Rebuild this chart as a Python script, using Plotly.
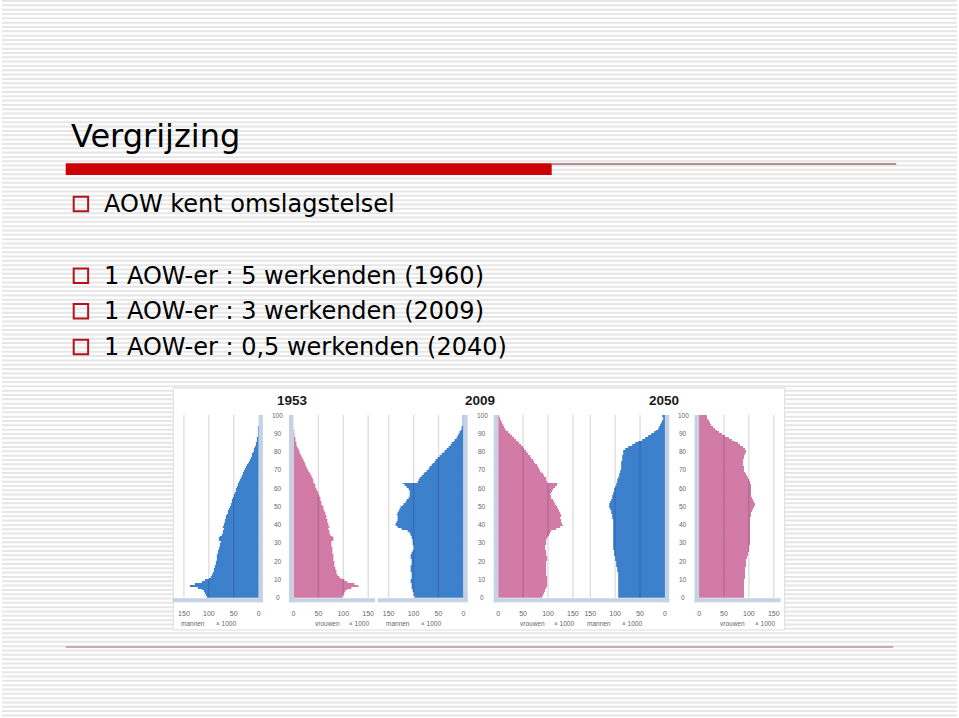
import plotly.graph_objects as go

W, H = 959, 718

# ---------------- data ----------------
ages = list(range(100))
years = ["1953", "2009", "2050"]

men_1953 = [103, 105, 107, 110, 114, 122, 137, 128, 113, 107,
            100, 96, 93, 91, 90, 89, 88, 87, 86, 85,
            84, 84, 83, 83, 82, 81, 80, 79, 78, 77,
            76, 80, 80, 77, 73, 72, 71, 70, 71, 70,
            69, 68, 67, 66, 65, 63, 62, 61, 59, 58,
            56, 55, 54, 53, 52, 50, 49, 48, 46, 45,
            43, 42, 41, 39, 37, 36, 34, 32, 31, 29,
            27, 25, 23, 21, 20, 18, 16, 14, 13, 11,
            10, 8.5, 7, 6, 5, 4, 3.2, 2.5, 1.9, 1.4,
            1.0, 0.7, 0.5, 0.35, 0.25, 0.15, 0.1, 0.06, 0.04, 0.03]
women_1953 = [98, 100, 102, 105, 109, 117, 131, 122, 108, 102,
              96, 92, 89, 87, 86, 85, 84, 83, 82, 82,
              81, 81, 80, 80, 79, 79, 78, 78, 77, 77,
              77, 81, 81, 78, 74, 73, 72, 71, 72, 71,
              70, 69, 68, 67, 66, 65, 64, 63, 61, 60,
              58, 57, 56, 55, 54, 52, 51, 50, 48, 47,
              45, 44, 43, 41, 40, 38, 36, 35, 33, 31,
              29, 27, 25, 24, 22, 20, 18, 16, 15, 13,
              11.5, 10, 8.5, 7, 6, 5, 4, 3.2, 2.5, 1.9,
              1.4, 1.0, 0.7, 0.5, 0.35, 0.25, 0.15, 0.1, 0.06, 0.04]
men_2009 = [98, 99, 100, 101, 102, 103, 104, 104, 105, 105,
            104, 103, 103, 104, 105, 106, 106, 105, 104, 104,
            104, 105, 106, 105, 103, 101, 100, 99, 100, 101,
            102, 102, 103, 104, 106, 108, 112, 124, 132, 136,
            135, 134, 132, 131, 132, 133, 132, 130, 127, 125,
            122, 119, 116, 113, 110, 108, 107, 107, 108, 110,
            114, 118, 121, 92, 89, 87, 84, 80, 77, 73,
            70, 67, 64, 61, 58, 55, 51, 48, 44, 40,
            37, 33, 29, 26, 23, 20, 17, 14, 11, 9,
            7, 5.5, 4, 3, 2.2, 1.6, 1.1, 0.8, 0.5, 0.4]
women_2009 = [88, 90, 92, 94, 95, 97, 98, 99, 99, 99,
              98, 98, 97, 97, 97, 96, 96, 96, 97, 97,
              98, 98, 98, 97, 96, 96, 95, 95, 95, 96,
              96, 97, 99, 101, 102, 104, 107, 116, 125, 131,
              129, 127, 126, 125, 126, 126, 125, 123, 121, 119,
              117, 115, 112, 110, 107, 106, 105, 106, 108, 111,
              114, 118, 119, 99, 97, 96, 93, 90, 87, 85,
              83, 81, 78, 75, 73, 70, 67, 64, 60, 58,
              56, 53, 50, 47, 43, 40, 36, 32, 28, 24,
              20, 17, 14, 12, 10, 8, 6, 5, 3.5, 3]
men_2050 = [94, 94, 94, 94, 93, 93, 93, 93, 93, 93,
            93, 93, 94, 94, 95, 95, 96, 97, 98, 98,
            99, 100, 100, 101, 102, 102, 103, 103, 103, 103,
            103, 103, 103, 103, 103, 103, 103, 103, 104, 104,
            104, 104, 104, 105, 105, 106, 107, 108, 110, 111,
            112, 111, 109, 107, 106, 105, 104, 103, 102, 101,
            100, 98, 97, 96, 95, 94, 92, 91, 90, 89,
            88, 88, 87, 87, 87, 86, 86, 85, 83, 84,
            84, 80, 74, 66, 60, 53, 46, 39, 33, 27,
            22, 18, 14, 11, 8.5, 6.5, 5, 4, 3.5, 6]
women_2050 = [90, 90, 90, 90, 90, 90, 91, 91, 91, 91,
              92, 92, 92, 92, 93, 93, 93, 94, 94, 95,
              95, 96, 97, 98, 99, 100, 100, 101, 101, 102,
              102, 102, 102, 102, 102, 102, 102, 102, 102, 102,
              102, 102, 103, 103, 104, 104, 105, 107, 109, 111,
              112, 112, 110, 108, 106, 105, 105, 105, 105, 105,
              104, 104, 103, 102, 100, 98, 96, 94, 92, 91,
              90, 90, 89, 89, 89, 89, 90, 91, 92, 94,
              95, 92, 88, 83, 78, 72, 66, 60, 53, 46,
              41, 36, 32, 28, 25, 22, 20, 18, 16, 16]

men = [men_1953, men_2009, men_2050]
women = [women_1953, women_2009, women_2050]

x_ticks = [0, 50, 100, 150]
grid_vals = [50, 100, 150]
age_ticks = list(range(0, 101, 10))
men_label = "mannen"
women_label = "vrouwen"
unit_label = "× 1000"

slide_title = "Vergrijzing"
bullets = ["AOW kent omslagstelsel",
           "1 AOW-er : 5 werkenden (1960)",
           "1 AOW-er : 3 werkenden (2009)",
           "1 AOW-er : 0,5 werkenden (2040)"]

# ---------------- layout helpers ----------------
def px(x):
    return x / W

def py(y):
    return 1 - y / H

L0s = [257.7, 463.3, 665.7]   # pixel x of "0" on men panels
R0s = [292.7, 498.3, 700.0]   # pixel x of "0" on women panels
S = 0.5                        # px per 1000 persons
RANGE = 160
Y_BOT, Y_TOP = 597.7, 415.0

BLUE = "#3b7ecb"
PINK = "#d179a6"
BAND = "#c4d2e3"
FONT = "Liberation Sans"

fig = go.Figure()
shapes = []
annotations = []

# striped slide background
stripe_path = []
k = 0
while k * 4.33 < H:
    y0 = k * 4.33
    stripe_path.append(f"M0,{py(y0):.5f} L1,{py(y0):.5f} L1,{py(y0+2):.5f} L0,{py(y0+2):.5f} Z")
    k += 1
shapes.append(dict(type="path", xref="paper", yref="paper", path=" ".join(stripe_path),
                   fillcolor="#e6e6e6", line=dict(width=0), layer="below"))

# chart picture background
shapes.append(dict(type="rect", xref="paper", yref="paper", x0=px(172), x1=px(786),
                   y0=py(630), y1=py(388), fillcolor="white",
                   line=dict(color="#dcdcdc", width=1), layer="below"))

layout_axes = {}
for i, yr in enumerate(years):
    L0, R0 = L0s[i], R0s[i]
    nm = 2 * i + 1
    nf = 2 * i + 2
    xm = "x" if nm == 1 else f"x{nm}"
    xf = f"x{nf}"
    fig.add_trace(go.Bar(x=men[i], y=[a + 0.5 for a in ages], orientation="h",
                         xaxis=xm, yaxis="y", width=1,
                         marker=dict(color=BLUE, line=dict(width=0.15, color="rgba(255,255,255,0.15)")),
                         showlegend=False, hoverinfo="skip"))
    fig.add_trace(go.Bar(x=women[i], y=[a + 0.5 for a in ages], orientation="h",
                         xaxis=xf, yaxis="y", width=1,
                         marker=dict(color=PINK, line=dict(width=0.15, color="rgba(255,255,255,0.15)")),
                         showlegend=False, hoverinfo="skip"))
    common = dict(anchor="y", tickvals=x_ticks, ticks="outside", ticklen=9,
                  tickcolor="rgba(0,0,0,0)", showgrid=False, zeroline=False,
                  showline=False, fixedrange=True,
                  tickfont=dict(size=7, color="#666", family=FONT))
    layout_axes["xaxis" if nm == 1 else f"xaxis{nm}"] = dict(
        domain=[px(L0 - RANGE * S), px(L0)], range=[RANGE, 0], **common)
    layout_axes[f"xaxis{nf}"] = dict(
        domain=[px(R0), px(R0 + RANGE * S)], range=[0, RANGE], **common)

    # zero bands
    shapes.append(dict(type="rect", xref="paper", yref="paper", x0=px(L0), x1=px(L0 + 4.3),
                       y0=py(602.3), y1=py(Y_TOP), fillcolor=BAND, line=dict(width=0), layer="below"))
    shapes.append(dict(type="rect", xref="paper", yref="paper", x0=px(R0 - 4.5), x1=px(R0),
                       y0=py(602.3), y1=py(Y_TOP), fillcolor=BAND, line=dict(width=0), layer="below"))
    # bottom bands
    shapes.append(dict(type="rect", xref="paper", yref="paper", x0=px(L0 - 86), x1=px(L0 + 4.3),
                       y0=py(602.3), y1=py(598.3), fillcolor=BAND, line=dict(width=0), layer="below"))
    shapes.append(dict(type="rect", xref="paper", yref="paper", x0=px(R0 - 4.5), x1=px(R0 + 82),
                       y0=py(602.3), y1=py(598.3), fillcolor=BAND, line=dict(width=0), layer="below"))
    # grid lines
    for g in grid_vals:
        for xr in (xm, xf):
            shapes.append(dict(type="line", xref=xr, yref="y", x0=g, x1=g, y0=0, y1=100,
                               line=dict(color="rgba(0,0,0,0.14)", width=1.3), layer="above"))

    mid = (L0 + R0) / 2
    for a in age_ticks:
        annotations.append(dict(x=px(mid + 1.5), xref="paper", y=a, yref="y", text=str(a),
                                yanchor="middle", xanchor="center",
                                showarrow=False, font=dict(size=6.5, color="#666", family=FONT)))
    annotations.append(dict(x=px(mid - 1), xref="paper", y=py(400), yref="paper",
                            text=f"<b>{yr}</b>", showarrow=False, yanchor="middle",
                            font=dict(size=13.5, color="#1a1a1a", family=FONT)))
    for lx, txt in ((L0 - 66, men_label), (L0 - 33, unit_label),
                    (R0 + 34, women_label), (R0 + 66, unit_label)):
        annotations.append(dict(x=px(lx), xref="paper", y=py(623.5), yref="paper", text=txt,
                                yanchor="middle", xanchor="center", showarrow=False,
                                font=dict(size=6.5, color="#666", family=FONT)))

# slide decorations
shapes.append(dict(type="rect", xref="paper", yref="paper", x0=px(64), x1=px(552),
                   y0=py(175), y1=py(163.3), fillcolor="#cc0000", line=dict(width=0)))
shapes.append(dict(type="line", xref="paper", yref="paper", x0=px(552), x1=px(898),
                   y0=py(164), y1=py(164), line=dict(color="#a5686c", width=1.5)))
shapes.append(dict(type="line", xref="paper", yref="paper", x0=px(64), x1=px(895),
                   y0=py(647), y1=py(647), line=dict(color="#b8959a", width=1.5)))

annotations.append(dict(x=px(67), xref="paper", y=py(136), yref="paper", text=slide_title,
                        xanchor="left", yanchor="middle", showarrow=False,
                        font=dict(size=32, color="black", family="DejaVu Sans")))

bullet_y = [204, 275.8, 311.2, 347]
for t, yc in zip(bullets, bullet_y):
    shapes.append(dict(type="rect", xref="paper", yref="paper", x0=px(72), x1=px(86.5),
                       y0=py(yc + 7.3), y1=py(yc - 7.3), fillcolor="rgba(0,0,0,0)",
                       line=dict(color="#b3121c", width=2)))
    annotations.append(dict(x=px(100), xref="paper", y=py(yc), yref="paper", text=t,
                            xanchor="left", yanchor="middle", showarrow=False,
                            font=dict(size=24, color="black", family="DejaVu Sans")))

fig.update_layout(
    width=W, height=H, margin=dict(l=0, r=0, t=0, b=0),
    paper_bgcolor="white", plot_bgcolor="rgba(0,0,0,0)",
    bargap=0, showlegend=False,
    yaxis=dict(domain=[py(Y_BOT), py(Y_TOP)], range=[0, 100], visible=False, fixedrange=True),
    shapes=shapes, annotations=annotations,
    **layout_axes,
)

fig.write_html("out.html")
